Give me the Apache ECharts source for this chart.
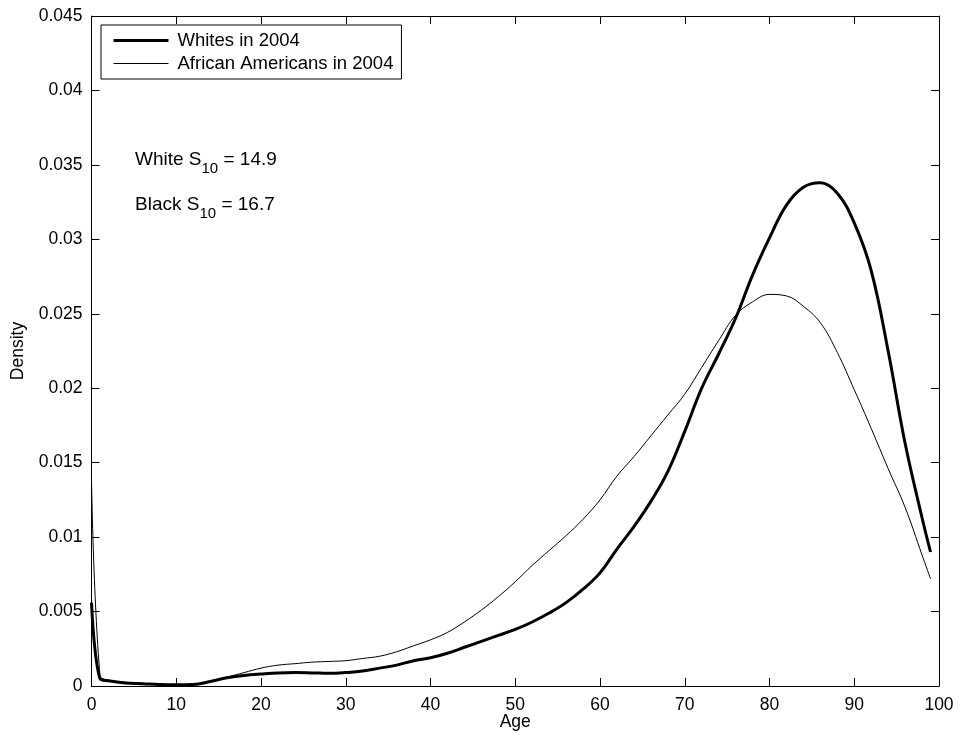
<!DOCTYPE html>
<html>
<head>
<meta charset="utf-8">
<title>Density by age, 2004</title>
<script src="https://cdn.jsdelivr.net/npm/echarts@6/dist/echarts.min.js"></script>
<style>
  html, body { margin: 0; padding: 0; background: #fff; }
  #chart { width: 962px; height: 741px; }
</style>
</head>
<body>
<div id="chart"></div>
<script>
// ages
const ages = [0, 1, 2, 4, 6, 8, 10, 12, 14, 16, 18, 20, 22, 24, 26, 28, 30, 32, 34, 36, 38,
  40, 42, 44, 46, 48, 50, 52, 54, 56, 58, 60, 62, 64, 66, 68, 70, 72, 74, 76, 78,
  80, 82, 84, 86, 88, 90, 92, 94, 96, 98, 99];

// Whites in 2004 (thick line)
const whites = [0.0056, 0.0005, 0.00035, 0.0002, 0.00015, 0.0001, 0.00008, 0.0001, 0.0003, 0.00055, 0.0007,
  0.0008, 0.00088, 0.0009, 0.00088, 0.00085, 0.0009, 0.001, 0.0012, 0.0014, 0.0017,
  0.0019, 0.0022, 0.0026, 0.003, 0.0034, 0.0038, 0.0043, 0.0049, 0.0056, 0.0065,
  0.0076, 0.0092, 0.0107, 0.0124, 0.0144, 0.0171, 0.02, 0.0223, 0.0247, 0.0276,
  0.0301, 0.0323, 0.0335, 0.0338, 0.0331, 0.0311, 0.0279, 0.0225, 0.0163, 0.0113, 0.009];

// African Americans in 2004 (thin line)
const blacks = [0.0138, 0.0007, 0.0004, 0.00025, 0.00018, 0.00012, 0.0001, 0.0001, 0.0003, 0.0006, 0.0009,
  0.0012, 0.0014, 0.0015, 0.0016, 0.00165, 0.0017, 0.00185, 0.002, 0.0023, 0.0027,
  0.0031, 0.0036, 0.0043, 0.0051, 0.006, 0.007, 0.0081, 0.0091, 0.0101, 0.0112,
  0.0125, 0.0141, 0.0154, 0.0168, 0.0182, 0.0196, 0.0214, 0.0232, 0.0249, 0.0258,
  0.0263, 0.0262, 0.0255, 0.0244, 0.0224, 0.0199, 0.0173, 0.0146, 0.012, 0.0088, 0.0072];

const seriesNames = ["Whites in 2004", "African Americans in 2004"];
const lineWidths = [3, 1];
const notes = [["White S", "10", " = 14.9"], ["Black S", "10", " = 16.7"]];

const font = "Liberation Sans, Arial, sans-serif";

function pairs(ys) {
  return ages.map((a, i) => [a, ys[i]]);
}

// mirrored axes on top / right only carry the inward ticks
function xAxisOpt(pos, labels) {
  return {
    type: "value",
    position: pos,
    min: 0,
    max: 100,
    interval: 10,
    name: labels ? "Age" : "",
    nameLocation: "middle",
    nameGap: 27,
    nameMoveOverlap: false,
    nameTextStyle: { fontFamily: font, fontSize: 17.5, color: "#000" },
    axisLine: { show: true, onZero: false, lineStyle: { color: "#000", width: 1 } },
    axisTick: { show: true, inside: true, length: 8, lineStyle: { color: "#000" } },
    axisLabel: { show: labels, margin: 10, fontFamily: font, fontSize: 17.5, color: "#000" },
    splitLine: { show: false },
  };
}

function yAxisOpt(pos, labels) {
  return {
    type: "value",
    position: pos,
    min: 0,
    max: 0.045,
    interval: 0.005,
    name: labels ? "Density" : "",
    nameLocation: "middle",
    nameGap: 64,
    nameMoveOverlap: false,
    nameTextStyle: { fontFamily: font, fontSize: 17.5, color: "#000" },
    axisLine: { show: true, onZero: false, lineStyle: { color: "#000", width: 1 } },
    axisTick: { show: true, inside: true, length: 8, lineStyle: { color: "#000" } },
    axisLabel: { show: labels, margin: 9, fontFamily: font, fontSize: 17.5, color: "#000" },
    splitLine: { show: false },
  };
}

const chart = echarts.init(document.getElementById("chart"));

chart.setOption({
  animation: false,
  backgroundColor: "#fff",
  grid: { left: 91.5, right: 23, top: 16, bottom: 55 },
  xAxis: [xAxisOpt("bottom", true), xAxisOpt("top", false)],
  yAxis: [yAxisOpt("left", true), yAxisOpt("right", false)],
  legend: {
    orient: "vertical",
    left: 101,
    top: 25,
    padding: [6, 8, 6, 11],
    itemGap: 4,
    itemWidth: 55,
    itemHeight: 14,
    backgroundColor: "#fff",
    borderColor: "#000",
    borderWidth: 1,
    borderRadius: 0,
    itemStyle: { opacity: 0 },
    textStyle: { fontFamily: font, fontSize: 18.5, color: "#000", padding: [0, 0, 0, 4] },
    data: seriesNames.map((n, i) => ({
      name: n,
      lineStyle: { color: "#000", width: lineWidths[i] },
    })),
  },
  graphic: notes.map((n, i) => ({
    type: "text",
    left: 135,
    top: 150 + i * 45,
    style: {
      text: "{m|" + n[0] + "}{s|" + n[1] + "}{m|" + n[2] + "}",
      rich: {
        m: { fontFamily: font, fontSize: 19, color: "#000", lineHeight: 34, verticalAlign: "middle" },
        s: { fontFamily: font, fontSize: 15, color: "#000", verticalAlign: "bottom" },
      },
    },
  })),
  series: seriesNames.map((n, i) => ({
    name: n,
    type: "line",
    data: pairs(i === 0 ? whites : blacks),
    showSymbol: false,
    symbol: "none",
    smooth: 0.4,
    color: "#000",
    lineStyle: { color: "#000", width: lineWidths[i] },
    z: 3 - i,
  })),
});
</script>
</body>
</html>
